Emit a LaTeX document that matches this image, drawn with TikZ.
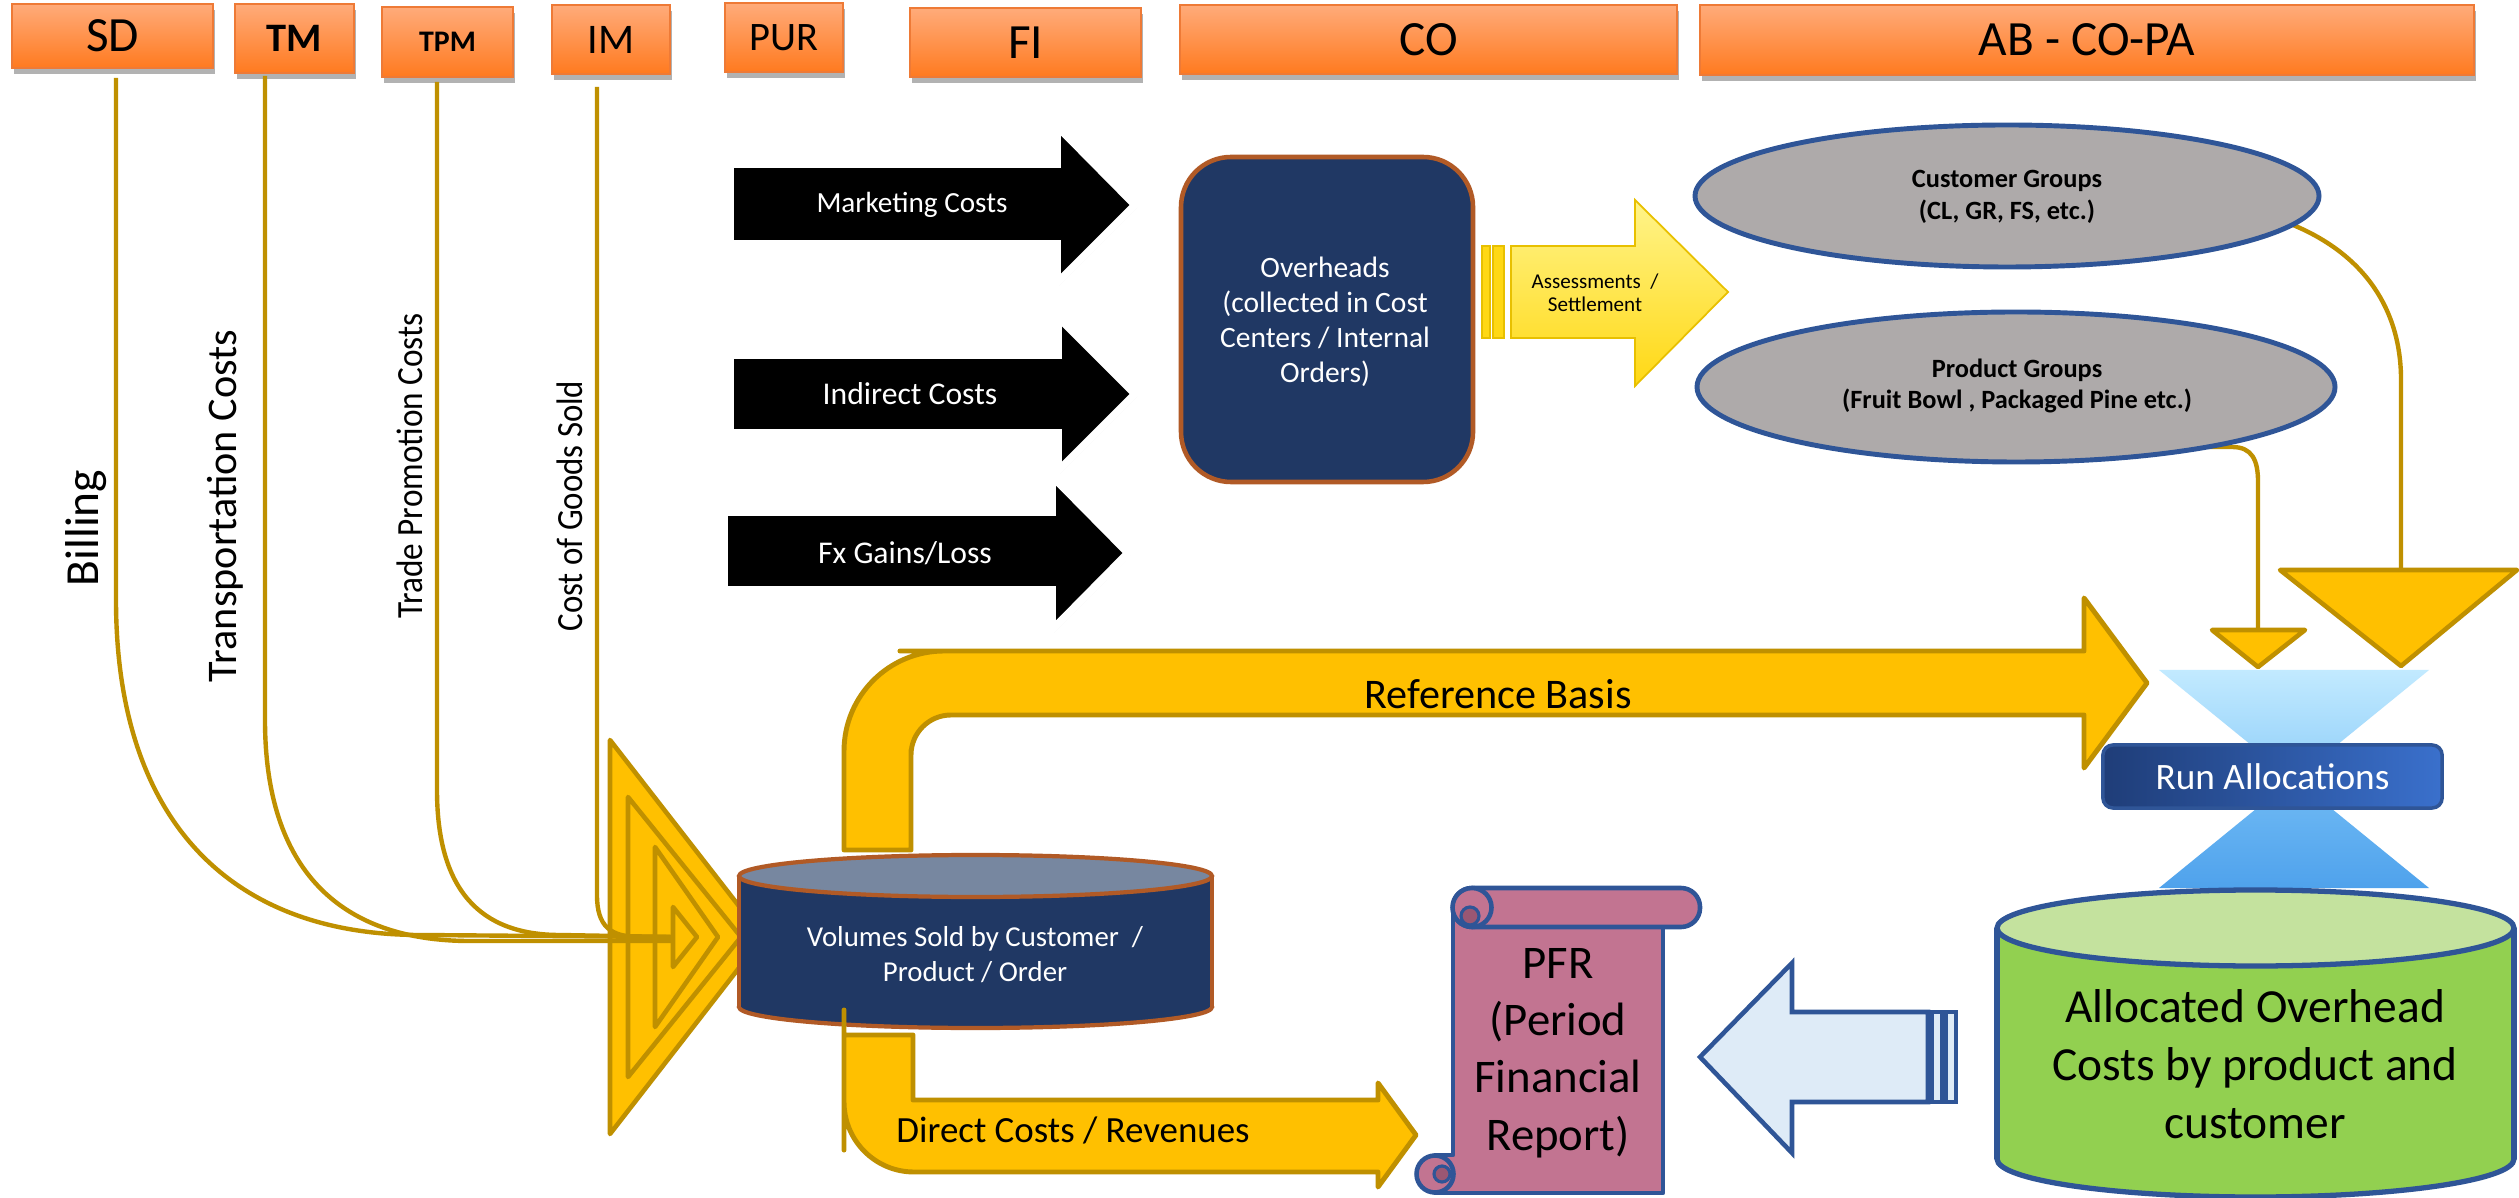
\documentclass[tikz,border=0pt]{standalone}
\usepackage{fontspec}
\setmainfont{Carlito}
\usetikzlibrary{shadows}

\definecolor{hdrtop}{HTML}{FFAB7A}
\definecolor{hdrbot}{HTML}{FF7A1F}
\definecolor{hdrline}{HTML}{EE7A36}
\definecolor{gold}{HTML}{FFC000}
\definecolor{golddk}{HTML}{BF9000}
\definecolor{navy}{HTML}{203864}
\definecolor{rust}{HTML}{B15A26}
\definecolor{slateblue}{HTML}{2F5597}
\definecolor{capgray}{HTML}{7787A0}
\definecolor{ovalgray}{HTML}{AEAAAA}
\definecolor{leaf}{HTML}{92D050}
\definecolor{leaflight}{HTML}{C4E29E}
\definecolor{scrollpink}{HTML}{C27491}
\definecolor{scrolldark}{HTML}{9A5773}
\definecolor{paleblue}{HTML}{DEEBF7}
\definecolor{sunA}{HTML}{FFF48A}
\definecolor{sunB}{HTML}{FFD814}
\definecolor{sunline}{HTML}{E8C000}
\definecolor{glassA}{HTML}{C2EAFF}
\definecolor{glassB}{HTML}{8FCEF9}
\definecolor{glassC}{HTML}{72BCF5}
\definecolor{glassD}{HTML}{4FA2EC}
\definecolor{runA}{HTML}{1F3D78}
\definecolor{runB}{HTML}{3A70CC}

\begin{document}
\begin{tikzpicture}[x=0.01cm,y=-0.01cm,
  hdr/.style={draw=hdrline, line width=0.5pt, top color=hdrtop, bottom color=hdrbot, inner sep=0pt,
     drop shadow={shadow xshift=0.6pt, shadow yshift=-1.8pt, opacity=0.3, fill=black}},
  feed/.style={draw=golddk, line width=1.25pt},
  goldshape/.style={fill=gold, draw=golddk, line width=1.3pt, line join=round},
  blackarrow/.style={fill=black, draw=white, line width=2.2pt,
     drop shadow={shadow xshift=0.6pt, shadow yshift=-0.8pt, opacity=0.18, fill=black}},
  whitetxt/.style={text=white, align=center, inner sep=0pt},
  blacktxt/.style={text=black, align=center, inner sep=0pt},
  sidetxt/.style={rotate=90, inner sep=0pt, font=\fontsize{12}{14}\selectfont},
  cylline/.style={line width=1.2pt},
]
\fill[white] (0,0) rectangle (2519,1198);
\useasboundingbox (0,0) rectangle (2519,1198);

% ---- module headers ----
\node[hdr, minimum width=2.01cm, minimum height=0.64cm, font=\fontsize{14}{16}\selectfont] (sd) at (112.5,36) {SD};
\node[hdr, minimum width=1.19cm, minimum height=0.69cm, font=\bfseries\fontsize{11.5}{13}\selectfont] (tm) at (294.5,38.5) {TM};
\node[hdr, minimum width=1.31cm, minimum height=0.70cm, font=\bfseries\fontsize{8.5}{10}\selectfont] (tpm) at (447.5,42) {TPM};
\node[hdr, minimum width=1.18cm, minimum height=0.69cm, font=\fontsize{12}{14}\selectfont] (im) at (611,39.5) {IM};
\node[hdr, minimum width=1.18cm, minimum height=0.69cm, font=\fontsize{11.5}{13}\selectfont] (pur) at (784,37.5) {PUR};
\node[hdr, minimum width=2.31cm, minimum height=0.69cm, font=\fontsize{14}{16}\selectfont] (fi) at (1025.5,42.5) {FI};
\node[hdr, minimum width=4.97cm, minimum height=0.69cm, font=\fontsize{14}{16}\selectfont] (co) at (1428.5,39.5) {CO};
\node[hdr, minimum width=7.74cm, minimum height=0.70cm, font=\fontsize{14}{16}\selectfont] (copa) at (2087,40) {AB - CO-PA};

% ---- cost inflows into CO ----
\path[blackarrow] (730,164) -- (1057,164) -- (1057,126) -- (1135,205) -- (1057,283) -- (1057,244) -- (730,244) -- cycle;
\node[whitetxt, font=\fontsize{8.3}{10}\selectfont] (mkt) at (912,205) {Marketing Costs};
\path[blackarrow] (730,355) -- (1058,355) -- (1058,317) -- (1135,394) -- (1058,471) -- (1058,433) -- (730,433) -- cycle;
\node[whitetxt, font=\fontsize{9}{11}\selectfont] (ind) at (910,394) {Indirect Costs};
\path[blackarrow] (724,512) -- (1052,512) -- (1052,476) -- (1128,553) -- (1052,630) -- (1052,590) -- (724,590) -- cycle;
\node[whitetxt, font=\fontsize{9}{11}\selectfont] (fx) at (905,553) {Fx Gains/Loss};

% ---- overheads ----
\draw[fill=navy, draw=rust, line width=1.3pt, rounded corners=0.5cm] (1181,157) rectangle (1473,482);
\node[whitetxt, font=\fontsize{8.4}{10}\selectfont] (ovh) at (1325,322) {Overheads\\(collected in Cost\\Centers / Internal\\Orders)};

% ---- assessments / settlement arrow ----
\path[fill=sunB, draw=sunline, line width=0.5pt] (1482,246) rectangle (1490,338);
\path[fill=sunB, draw=sunline, line width=0.5pt] (1493,246) rectangle (1504,338);
\path[top color=sunA, bottom color=sunB, draw=sunline, line width=0.5pt] (1511,246) -- (1635,246) -- (1635,200) -- (1728,292) -- (1635,386) -- (1635,338) -- (1511,338) -- cycle;
\node[blacktxt, font=\fontsize{6}{6.6}\selectfont] (assess) at (1595,293) {Assessments\ \ /\\Settlement};

% ---- CO-PA characteristics ----
\coordinate (bigmerge) at (2401,570);
\coordinate (smallmerge) at (2258,630);
\draw[feed] (2293,225) .. controls (2365,255) and (2401,310) .. (2401,380) -- (bigmerge);
\draw[feed] (2209,447) -- (2232,447) .. controls (2252,447) and (2258,460) .. (2258,482) -- (smallmerge);
\filldraw[fill=ovalgray, draw=slateblue, line width=1.4pt] (2007,196) ellipse [x radius=312, y radius=71];
\node[blacktxt, font=\bfseries\fontsize{7.5}{9}\selectfont] (cust) at (2007,197) {Customer Groups\\(CL, GR, FS, etc.)};
\filldraw[fill=ovalgray, draw=slateblue, line width=1.4pt] (2016,387) ellipse [x radius=319, y radius=75];
\node[blacktxt, font=\bfseries\fontsize{7.5}{9}\selectfont] (prod) at (2017,386) {Product Groups\\(Fruit Bowl , Packaged Pine etc.)};

% ---- merge symbols and allocation hourglass ----
\path[goldshape] (2280,570) -- (2517,570) -- (bigmerge |- 0,666) -- cycle;
\path[goldshape] (2212,630) -- (2305,630) -- (smallmerge |- 0,667) -- cycle;
\path[top color=glassA, bottom color=glassB] (2159,670) -- (2429,670) -- (2294,780) -- cycle;
\path[top color=glassC, bottom color=glassD] (2294,778) -- (2429,888) -- (2159,888) -- cycle;
\node[draw=slateblue, line width=1pt, rounded corners=0.1cm, left color=runA, right color=runB,
      minimum width=3.39cm, minimum height=0.63cm, text=white, font=\fontsize{10.6}{12}\selectfont] (run) at (2272.5,776.5) {Run Allocations};

% ---- reference basis arrow ----
\path[goldshape, line width=1.4pt] (1500,651) -- (2084,651) -- (2084,598) -- (2147,683) -- (2084,768) -- (2084,715) -- (1500,715)
   [rounded corners=0.4cm] -- (911,715) -- (911,790) [sharp corners] -- (911,850) -- (844,850) -- (844,790)
   [rounded corners=1cm] -- (844,651) -- (1000,651) [sharp corners] -- cycle;
\node[blacktxt, font=\fontsize{12}{14}\selectfont] (refbasis) at (1498,694) {Reference Basis};

% ---- funnel of direct postings ----
\path[goldshape] (610,740) -- (763,937) -- (610,1134) -- cycle;
\path[goldshape] (628,797) -- (741,937) -- (628,1077) -- cycle;
\path[goldshape] (655,847) -- (718,937) -- (655,1027) -- cycle;
\coordinate (sdfoot) at (116,78);
\coordinate (tmfoot) at (265,76);
\coordinate (tpmfoot) at (437,82);
\coordinate (imfoot) at (597,87);
\coordinate (funnel) at (673,937);
\draw[feed] (sdfoot) -- (116,600) .. controls (116,820) and (230,935) .. (420,935) -- (funnel);
\draw[feed] (tmfoot) -- (265,720) .. controls (265,870) and (340,941) .. (470,941) -- (673,941);
\draw[feed] (tpmfoot) -- (437,790) .. controls (437,890) and (480,935) .. (560,935) -- (funnel);
\draw[feed] (imfoot) -- (597,895) .. controls (597,926) and (610,937) .. (640,937) -- (funnel);
\path[goldshape] (funnel |- 0,907) -- (697,937) -- (673,967) -- cycle;

% ---- volumes cylinder ----
\fill[navy] (975.5,1007) ellipse [x radius=236.5, y radius=21];
\draw[rust, cylline] (975.5,1007) ellipse [x radius=236.5, y radius=21];
\fill[navy] (739,876) rectangle (1212,1007);
\draw[rust, cylline] (739,876) -- (739,1007) (1212,876) -- (1212,1007);
\filldraw[fill=capgray, draw=rust, cylline] (975.5,876) ellipse [x radius=236.5, y radius=21];
\node[whitetxt, font=\fontsize{8.2}{10}\selectfont] (vol) at (975,955) {Volumes Sold by Customer\ \ /\\Product / Order};

% ---- direct costs arrow ----
\path[goldshape, line width=1.4pt] (877,1035) -- (913,1035) -- (913,1100) -- (1378,1100) -- (1378,1083) -- (1416,1135) -- (1378,1187) -- (1378,1172) -- (1000,1172)
   [rounded corners=0.7cm] -- (844,1172) -- (844,1080) [sharp corners] -- (844,1035) -- cycle;
\node[blacktxt, font=\fontsize{10.5}{12}\selectfont] (direct) at (1073,1130) {Direct Costs / Revenues};

% ---- PFR scroll ----
\path[fill=scrollpink, draw=slateblue, line width=1.3pt, line join=round] (1453,907) -- (1663,907) -- (1663,1193) -- (1435,1193) -- (1435,1155) -- (1453,1155) -- cycle;
\filldraw[fill=scrollpink, draw=slateblue, line width=1.3pt] (1435,1174) circle [radius=18.5];
\filldraw[fill=scrolldark, draw=slateblue, line width=0.9pt] (1442,1174) circle [radius=8];
\filldraw[fill=scrollpink, draw=slateblue, line width=1.3pt, rounded corners=0.19cm] (1453,888) rectangle (1700,927);
\filldraw[fill=scrollpink, draw=slateblue, line width=1.3pt] (1472,907.5) circle [radius=19.5];
\filldraw[fill=scrolldark, draw=slateblue, line width=0.9pt] (1470,916) circle [radius=9];
\node[blacktxt, font=\fontsize{13.3}{16.3}\selectfont] (pfr) at (1558,1053) {PFR\\(Period\\Financial\\Report)};

% ---- transfer arrow into PFR ----
\path[fill=paleblue, draw=slateblue, line width=1.3pt] (1700,1057) -- (1792,963) -- (1792,1012) -- (1928,1012) -- (1928,1102) -- (1792,1102) -- (1792,1153) -- cycle;
\path[fill=paleblue, draw=slateblue, line width=1.1pt] (1932,1012) rectangle (1942,1102);
\path[fill=paleblue, draw=slateblue, line width=1.1pt] (1946,1012) rectangle (1956,1102);

% ---- allocated overhead cylinder ----
\fill[leaf] (2255.5,1159) ellipse [x radius=258.5, y radius=38];
\draw[slateblue, line width=1.5pt] (2255.5,1159) ellipse [x radius=258.5, y radius=38];
\fill[leaf] (1997,928) rectangle (2514,1159);
\draw[slateblue, line width=1.5pt] (1997,928) -- (1997,1159) (2514,928) -- (2514,1159);
\filldraw[fill=leaflight, draw=slateblue, line width=1.5pt] (2255.5,928) ellipse [x radius=258.5, y radius=38];
\node[blacktxt, font=\fontsize{13.5}{16.5}\selectfont] (alloc) at (2255,1064) {Allocated Overhead\\Costs by product and\\customer};

% ---- feed labels ----
\node[sidetxt, font=\fontsize{13.5}{15}\selectfont] (billing) at (86,528) {Billing};
\node[sidetxt] (transp) at (225,506) {Transportation Costs};
\node[sidetxt, font=\fontsize{10.5}{12}\selectfont] (trade) at (410,466) {\scalebox{0.9}[1]{Trade Promotion Costs}};
\node[sidetxt, font=\fontsize{10.5}{12}\selectfont] (cogs) at (570,506) {\scalebox{0.89}[1]{Cost of Goods Sold}};
\end{tikzpicture}
\end{document}
